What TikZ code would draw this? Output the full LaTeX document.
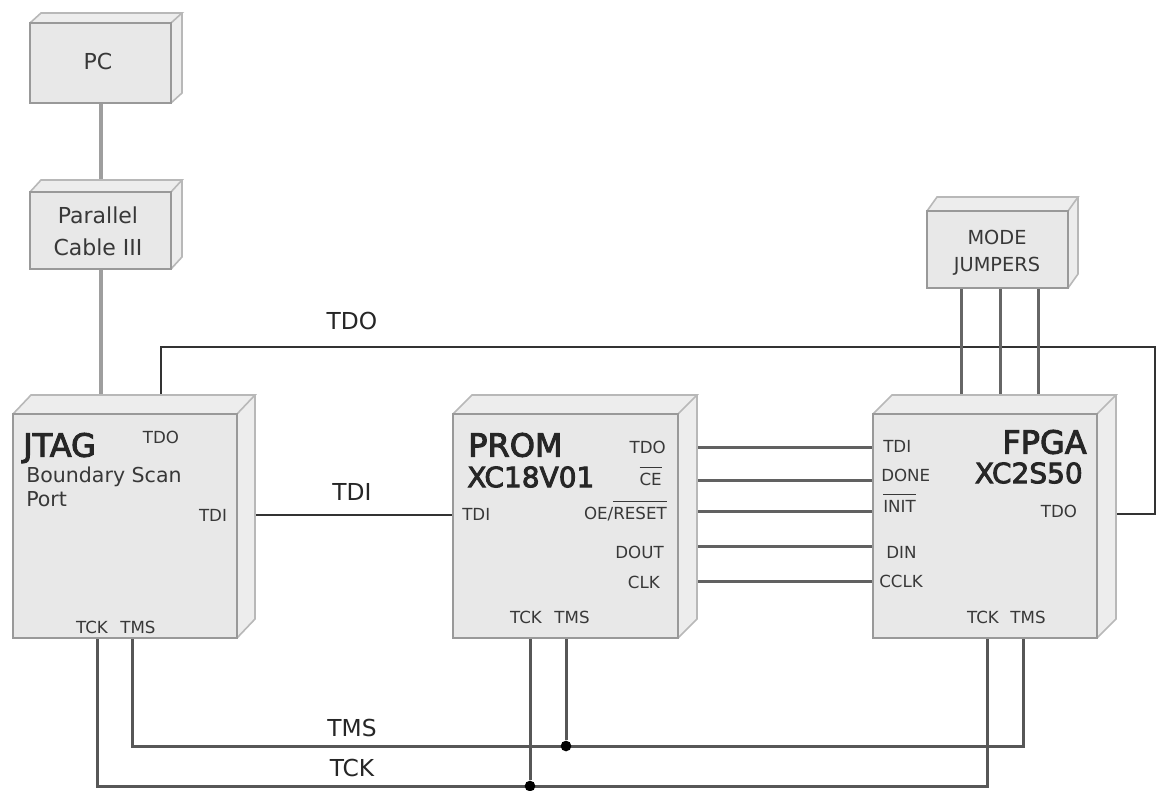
\documentclass[tikz,border=0pt]{standalone}
\usepackage{fontspec}
\setmainfont{DejaVu Sans}
\newfontfamily\headfont[FakeBold=3]{DejaVu Sans}
\definecolor{boxface}{gray}{0.91}
\definecolor{boxside}{gray}{0.93}
\definecolor{boxedge}{gray}{0.60}
\definecolor{sideedge}{gray}{0.72}
\definecolor{ink}{gray}{0.22}
\newcommand{\fsz}[1]{\fontsize{#1}{#1}\selectfont}
\newcommand{\ovl}[1]{$\overline{\hbox{\rule{0pt}{0.95em}#1}}$}
\newcommand{\solidblock}[7]{%
  % name, x1,y1,x2,y2, dx,dy
  \fill[boxside] (#2,#3) -- (#2+#6,#3-#7) -- (#4+#6,#3-#7) -- (#4+#6,#5-#7) -- (#4,#5) -- cycle;
  \draw[blockline] (#2,#3) -- (#2+#6,#3-#7) -- (#4+#6,#3-#7) -- (#4,#3);
  \draw[blockline] (#4+#6,#3-#7) -- (#4+#6,#5-#7) -- (#4,#5);
  \node[blockface, minimum width={(#4-#2)*0.75pt}, minimum height={(#5-#3)*0.75pt}] (#1) at ({(#2+#4)/2},{(#3+#5)/2}) {};
}
\tikzset{
  x=0.75pt, y=-0.75pt,
  blockline/.style={draw=sideedge, line width=1.2pt},
  blockface/.style={rectangle, draw=boxedge, line width=1.5pt, fill=boxface, inner sep=0pt, outer sep=0pt},
  pin/.style={font=\fsz{12.5}, text=ink, inner sep=0pt},
  pinleft/.style={pin, anchor=west},
  pinright/.style={pin, anchor=east},
  boxtext/.style={font=\fsz{16.5}, text=ink, inner sep=0pt},
  jumpertext/.style={font=\fsz{14.5}, text=ink, inner sep=0pt},
  headtext/.style={font=\headfont\fsz{24}, text=black!85, inner sep=0pt},
  subtext/.style={font=\headfont\fsz{21}, text=black!85, inner sep=0pt},
  netlabel/.style={font=\fsz{17.5}, text=black!85, inner sep=0pt},
  cable/.style={draw=black!38, line width=3pt},
  bus/.style={draw=black!62, line width=2.25pt},
  jumperwire/.style={draw=black!60, line width=2.25pt},
  net/.style={draw=black!80, line width=1.9pt},
  netfat/.style={draw=black!66, line width=2.25pt},
  junction/.style={circle, fill=black, inner sep=0pt, minimum size=8pt},
}
\begin{document}
\begin{tikzpicture}
\useasboundingbox (0,0) rectangle (1159,790);
\fill[white] (0,0) rectangle (1159,790);

% pin coordinates
\coordinate (pcB) at (101,103);
\coordinate (pcableT) at (101,180);
\coordinate (pcableB) at (101,269);
\coordinate (jtagT) at (101,395);
\coordinate (jtagTdo) at (161,395);
\coordinate (tdoA) at (161,347);
\coordinate (tdoB) at (1155,347);
\coordinate (tdoC) at (1155,514);
\coordinate (fpgaTdo) at (1116,514);
\coordinate (jtagTdi) at (255,515);
\coordinate (promTdi) at (453,515);
\coordinate (mA) at (961,288);
\coordinate (mB) at (1000,288);
\coordinate (mC) at (1038,288);
\coordinate (fA) at (961,395);
\coordinate (fB) at (1000,395);
\coordinate (fC) at (1038,395);
\foreach \n/\y in {a/447,b/480,c/511,d/546,e/581}{
  \coordinate (pr\n) at (697,\y);
  \coordinate (fp\n) at (873,\y);
}
\coordinate (jtagTck) at (97,638);
\coordinate (jtagTms) at (132,638);
\coordinate (promTck) at (530,638);
\coordinate (promTms) at (566,638);
\coordinate (fpgaTck) at (987,638);
\coordinate (fpgaTms) at (1023,638);
\coordinate (tckL) at (97,786);
\coordinate (tckR) at (987,786);
\coordinate (tmsL) at (132,746);
\coordinate (tmsR) at (1023,746);

% connectors
\draw[cable] (pcB) -- (pcableT);
\draw[cable] (pcableB) -- (jtagT);
\draw[net] (jtagTdo) -- (tdoA) -- (tdoB) -- (tdoC) -- (fpgaTdo);
\draw[net] (jtagTdi) -- (promTdi);
\foreach \n in {a,b,c,d,e}{ \draw[bus] (pr\n) -- (fp\n); }
\draw[jumperwire] (mA) -- (fA);
\draw[jumperwire] (mB) -- (fB);
\draw[jumperwire] (mC) -- (fC);
\draw[netfat] (jtagTck) -- (tckL) -- (tckR) -- (fpgaTck);
\draw[netfat] (jtagTms) -- (tmsL) -- (tmsR) -- (fpgaTms);
\node[junction] (tmsDot) at (566,746) {};
\node[junction] (tckDot) at (530,786) {};
\draw[netfat] (promTck) -- (tckDot);
\draw[netfat] (promTms) -- (tmsDot);

% blocks
\solidblock{pc}{30}{23}{171}{103}{11}{10}
\solidblock{pcable}{30}{192}{171}{269}{11}{12}
\solidblock{jtag}{13}{414}{237}{638}{18}{19}
\solidblock{prom}{453}{414}{678}{638}{19}{19}
\solidblock{fpga}{873}{414}{1097}{638}{19}{19}
\solidblock{mode}{927}{211}{1068}{288}{10}{14}

% block text
\node[boxtext] (pcT) at (98,61) {PC};
\node[boxtext] (pcableT1) at (98,215) {Parallel};
\node[boxtext] (pcableT2) at (98,247) {Cable III};
\node[jumpertext] (modeT1) at (997,237) {MODE};
\node[jumpertext] (modeT2) at (997,266) {JUMPERS};

\node[headtext, anchor=west] (jtagH) at (23,448) {JTAG};
\node[boxtext, anchor=west, font=\fsz{15.4}] (jtagS1) at (26,477) {Boundary Scan};
\node[boxtext, anchor=west, font=\fsz{15.4}] (jtagS2) at (26,499) {Port};
\node[pin] (jTDO) at (161,437) {TDO};
\node[pin] (jTDI) at (213,515) {TDI};
\node[pin] (jTCK) at (92,627) {TCK};
\node[pin] (jTMS) at (138,627) {TMS};

\node[headtext, anchor=west] (promH) at (468,445) {PROM};
\node[subtext, anchor=west] (promS) at (467,477) {XC18V01};
\node[pinleft] (pTDI) at (462,514) {TDI};
\node[pinright] (pTDO) at (666,447) {TDO};
\node[pin, anchor=base east] (pCE) at (662,485) {\ovl{CE}};
\node[pin, anchor=base east] (pOE) at (667,519) {OE/\ovl{RESET}};
\node[pinright] (pDOUT) at (664,552) {DOUT};
\node[pinright] (pCLK) at (660,582) {CLK};
\node[pin] (pTCK) at (526,617) {TCK};
\node[pin] (pTMS) at (572,617) {TMS};

\node[headtext, anchor=east] (fpgaH) at (1087,442) {FPGA};
\node[subtext, anchor=east] (fpgaS) at (1083,473) {XC2S50};
\node[pinleft] (fTDI) at (883,446) {TDI};
\node[pinleft] (fDONE) at (881,475) {DONE};
\node[pin, anchor=base west] (fINIT) at (883,512) {\ovl{INIT}};
\node[pinleft] (fDIN) at (886,552) {DIN};
\node[pinleft] (fCCLK) at (879,581) {CCLK};
\node[pin] (fTDO) at (1059,511) {TDO};
\node[pin] (fTCK) at (983,617) {TCK};
\node[pin] (fTMS) at (1028,617) {TMS};

% net labels
\node[netlabel] (lTDO) at (352,321) {TDO};
\node[netlabel] (lTDI) at (352,492) {TDI};
\node[netlabel] (lTMS) at (352,728) {TMS};
\node[netlabel] (lTCK) at (352,768) {TCK};
\end{tikzpicture}
\end{document}
